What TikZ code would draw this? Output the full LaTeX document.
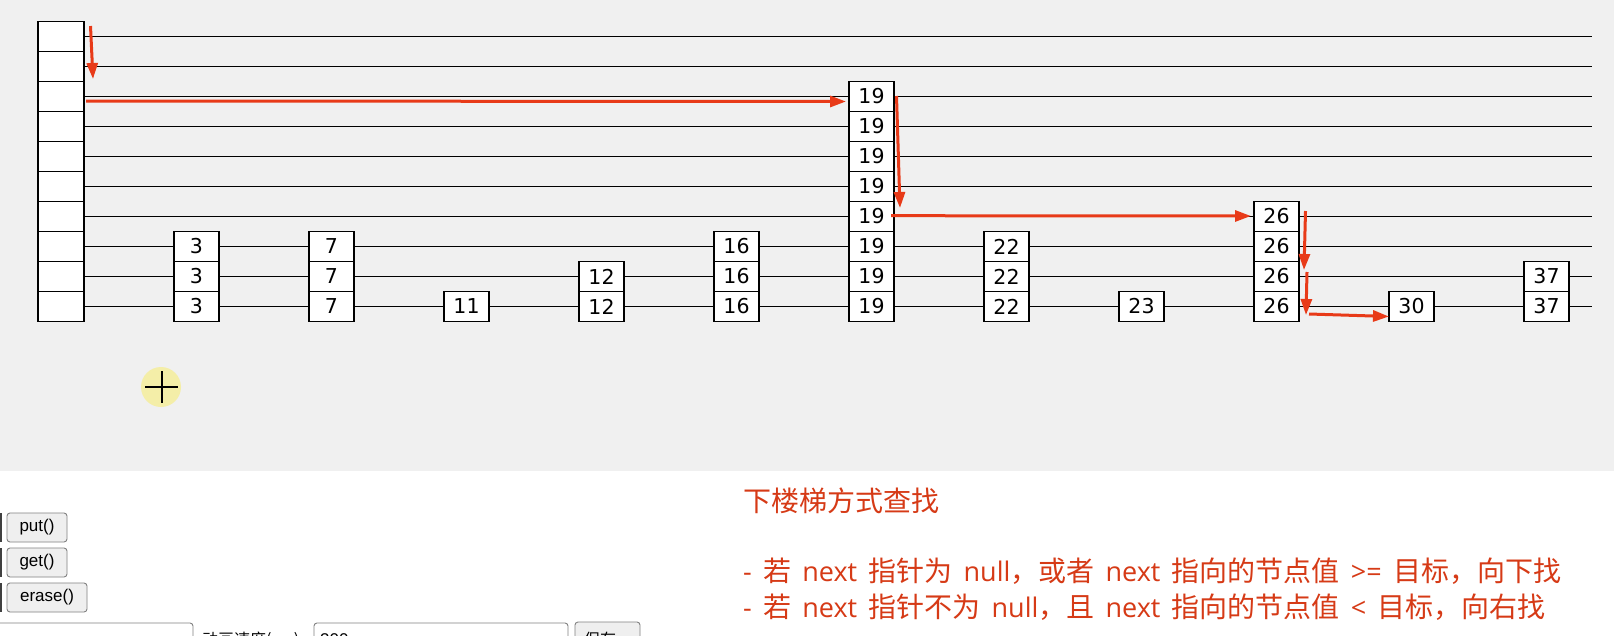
\documentclass[tikz,border=0pt]{standalone}
\usepackage{fontspec}
\usetikzlibrary{arrows.meta}
\newfontfamily\cjk{Noto Sans CJK SC}
\newfontfamily\latfont[WordSpace=1.6]{Open Sans}
\newfontfamily\numfont{DejaVu Sans}
\newfontfamily\uifont{Liberation Sans}
\newcommand\lt[1]{{\latfont\fontsize{27}{32}\selectfont #1}}
\definecolor{bggrey}{RGB}{240,240,240}
\definecolor{arrowred}{RGB}{232,58,24}
\definecolor{textred}{RGB}{214,58,22}
\definecolor{btnfill}{RGB}{239,239,239}
\definecolor{btnline}{RGB}{130,130,130}
\definecolor{cursory}{RGB}{244,238,168}
\newcommand\levelchain[2]{%
  \gdef\prevnode{h#1}%
  \foreach \v in {#2} {\draw[link] (\prevnode) -- (n\v L#1); \xdef\prevnode{n\v L#1}}%
  \draw[link] (\prevnode) -- (e#1);%
}
\begin{document}
\begin{tikzpicture}[x=1pt,y=-1pt,
  cell/.style={draw=black,fill=white,line width=1.8pt,minimum width=45.5pt,minimum height=30pt,inner sep=0pt,font=\numfont\fontsize{20.5}{24}\selectfont},
  headcell/.style={cell,minimum width=46pt},
  link/.style={draw=black,line width=1.8pt},
  redarrow/.style={draw=arrowred,line width=3pt,-{Triangle[length=16pt,width=11pt]}},
  btn/.style={draw=btnline,fill=btnfill,line width=0.9pt,rounded corners=3pt,inner sep=0pt,font=\uifont\fontsize{17}{20}\selectfont},
  infield/.style={draw=btnline,fill=white,line width=0.9pt,rounded corners=3pt},
  note/.style={anchor=base west,inner sep=0pt,text=textred,font=\cjk\fontsize{28}{32}\selectfont}]
\clip (0,0) rectangle (1614,635);
\fill[white] (0,0) rectangle (1614,635);
\fill[bggrey] (0,0) rectangle (1614,471);
% head column
\foreach \L in {0,...,9} {
  \node[headcell] (h\L) at (61.2,{36.5+30*\L}) {};
  \coordinate (e\L) at (1592,{36.5+30*\L});
}
% value towers
\foreach \v/\k/\lo in {3/1/7, 7/2/7, 11/3/9, 12/4/8, 16/5/7, 19/6/2, 22/7/7, 23/8/9, 26/9/6, 30/10/9, 37/11/8} {
  \foreach \L in {\lo,...,9} {
    \node[cell] (n\v L\L) at ({61.5+135*\k},{36.5+30*\L}) {\v};
  }
}
% level links
\draw[link] (h0) -- (e0);
\draw[link] (h1) -- (e1);
\levelchain{2}{19}
\levelchain{3}{19}
\levelchain{4}{19}
\levelchain{5}{19}
\levelchain{6}{19,26}
\levelchain{7}{3,7,16,19,22,26}
\levelchain{8}{3,7,12,16,19,22,26,37}
\levelchain{9}{3,7,11,12,16,19,22,23,26,30,37}
% search path
\coordinate (p1s) at (90.5,26);   \coordinate (p1e) at (93,79);
\coordinate (p2s) at (86,101);    \coordinate (p2e) at (846,101.5);
\coordinate (p3s) at (896.5,96);  \coordinate (p3e) at (900,208);
\coordinate (p4s) at (891,215.7); \coordinate (p4e) at (1251,216);
\coordinate (p5s) at (1305.5,211);\coordinate (p5e) at (1304,270);
\coordinate (p6s) at (1307,272);  \coordinate (p6e) at (1306,315);
\coordinate (p7s) at (1309,314);  \coordinate (p7e) at (1389,316.5);
\draw[redarrow] (p1s) -- (p1e);
\draw[redarrow] (p2s) -- (p2e);
\draw[redarrow] (p3s) -- (p3e);
\draw[redarrow] (p4s) -- (p4e);
\draw[redarrow] (p5s) -- (p5e);
\draw[redarrow] (p6s) -- (p6e);
\draw[redarrow] (p7s) -- (p7e);
% cursor
\fill[cursory] (161,387) circle (20);
\draw[black,line width=2.6pt] (145,387) -- (178,387) (162,371) -- (162,403);
% explanation text
\node[note] (t0) at (743,511) {下楼梯方式查找};
\node[note] (t1) at (743,581) {\lt{- }若\lt{ next }指针为\lt{ null}，或者\lt{ next }指向的节点值\lt{ >= }目标，向下找};
\node[note] (t2) at (743,617) {\lt{- }若\lt{ next }指针不为\lt{ null}，且\lt{ next }指向的节点值\lt{ < }目标，向右找};
% UI controls
\draw[black!75,line width=2pt] (0.5,513) -- (0.5,542) (0.5,548) -- (0.5,577) (0.5,583) -- (0.5,612);
\node[btn,minimum width=60pt,minimum height=29pt] (bput) at (37,527.5) {put()};
\node[btn,minimum width=60pt,minimum height=29pt] (bget) at (37,562.5) {get()};
\node[btn,minimum width=80pt,minimum height=29pt] (berase) at (47,597.5) {erase()};
\draw[infield] (-10,623) rectangle (193,665);
\node[anchor=base west,inner sep=0pt,font=\cjk\fontsize{16}{19}\selectfont] (lspeed) at (202,645) {动画速度(ms)};
\draw[infield] (314,623) rectangle (568,665);
\node[anchor=base west,inner sep=0pt,font=\uifont\fontsize{17}{20}\selectfont] (vspeed) at (320,645) {300};
\draw[draw=btnline,fill=btnfill,line width=0.9pt,rounded corners=3pt] (575,622) rectangle (640,665);
\node[anchor=base west,inner sep=0pt,font=\cjk\fontsize{16}{19}\selectfont] (bsave) at (584,645) {保存};
\end{tikzpicture}
\end{document}
